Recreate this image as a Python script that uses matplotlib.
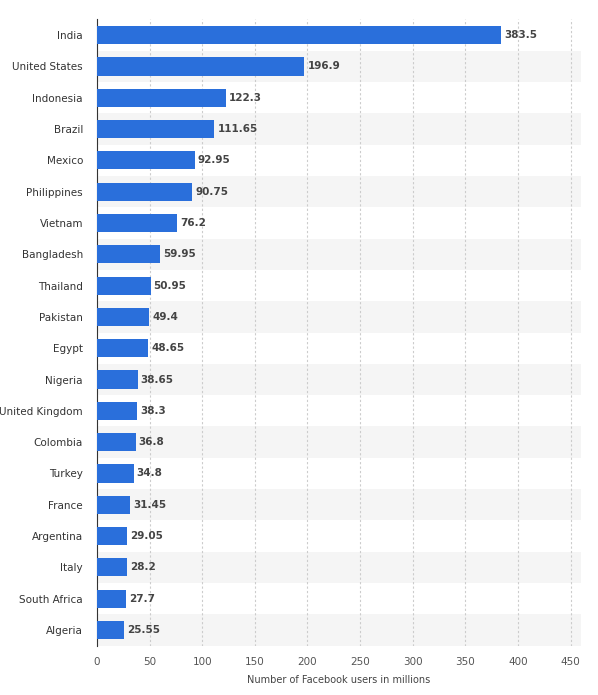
import matplotlib.pyplot as plt

countries = ["India", "United States", "Indonesia", "Brazil", "Mexico", "Philippines",
             "Vietnam", "Bangladesh", "Thailand", "Pakistan", "Egypt", "Nigeria",
             "United Kingdom", "Colombia", "Turkey", "France", "Argentina", "Italy",
             "South Africa", "Algeria"]
users = [383.5, 196.9, 122.3, 111.65, 92.95, 90.75, 76.2, 59.95, 50.95, 49.4,
         48.65, 38.65, 38.3, 36.8, 34.8, 31.45, 29.05, 28.2, 27.7, 25.55]
labels = ["383.5", "196.9", "122.3", "111.65", "92.95", "90.75", "76.2", "59.95",
          "50.95", "49.4", "48.65", "38.65", "38.3", "36.8", "34.8", "31.45",
          "29.05", "28.2", "27.7", "25.55"]

fig = plt.figure(figsize=(5.98, 6.95), dpi=100)
ax = fig.add_axes([0.162, 0.071, 0.81, 0.901])

n = len(countries)
ypos = list(range(n))
for i in ypos:
    if i % 2 == 1:
        ax.axhspan(i - 0.5, i + 0.5, color="#f5f5f5", zorder=0, lw=0)

ax.barh(ypos, users, height=0.58, color="#2a6fdb", zorder=3)
for y, v, t in zip(ypos, users, labels):
    ax.text(v + 3, y, t, va="center", ha="left", fontsize=7.5, fontweight="bold",
            color="#444444", zorder=4)

ax.set_ylim(n - 0.5, -0.5)
ax.set_xlim(0, 460)
ax.set_yticks(ypos)
ax.set_yticklabels(countries, fontsize=7.5, color="#333333")
ax.set_xticks(range(0, 451, 50))
ax.tick_params(axis="x", labelsize=7.5, colors="#555555", length=0, pad=8)
ax.tick_params(axis="y", length=0, pad=10)
ax.grid(axis="x", color="#cccccc", linestyle=(0, (2, 2)), lw=0.8, zorder=1)
for s in ["top", "right", "bottom"]:
    ax.spines[s].set_visible(False)
ax.spines["left"].set_color("#333333")
ax.set_xlabel("Number of Facebook users in millions", fontsize=7, color="#444444", labelpad=6)

fig.savefig("out.png", dpi=100)
